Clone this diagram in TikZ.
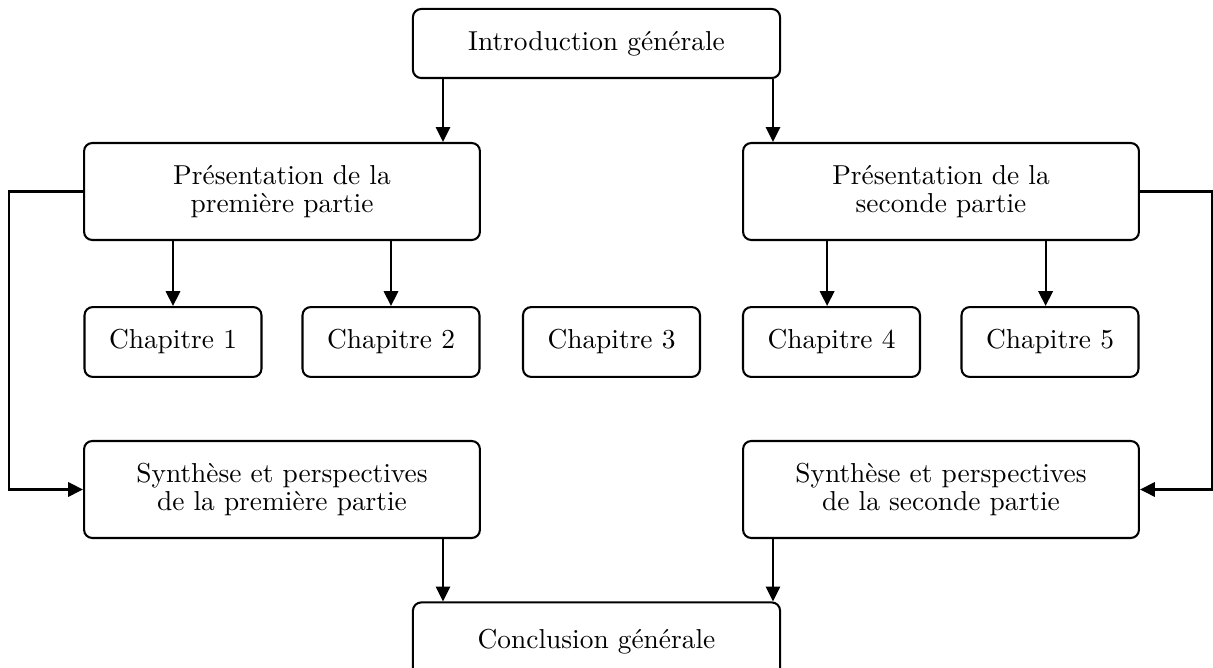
\documentclass[tikz,border=0pt]{standalone}
\usepackage{fontspec}
\usetikzlibrary{arrows.meta}

\begin{document}
\begin{tikzpicture}[x=0.365pt, y=-0.365pt,
  box/.style={draw, line width=0.75pt, rounded corners=3pt, align=center, inner sep=2pt, font=\fontsize{10}{10.2}\selectfont},
  endbox/.style={box, minimum width=134pt, minimum height=25.2pt},
  partbox/.style={box, minimum width=144.5pt, minimum height=35.4pt},
  chapbox/.style={box, minimum width=64.6pt, minimum height=25.5pt},
  arr/.style={line width=0.75pt, -{Triangle[length=5.4pt,width=5.2pt]}}]
  \useasboundingbox (0,0) rectangle (1213,668);
  \coordinate (lcol) at (443,0);
  \coordinate (rcol) at (773,0);
  \node[endbox] (intro) at (596.5,43.5) {Introduction générale};
  \node[partbox] (pres1) at (282,191.5) {Présentation de la\\première partie};
  \node[partbox] (pres2) at (941,191.5) {Présentation de la\\seconde partie};
  \node[chapbox] (ch1) at (173,342) {Chapitre 1};
  \node[chapbox] (ch2) at (391,342) {Chapitre 2};
  \node[chapbox] (ch3) at (611.5,342) {Chapitre 3};
  \node[chapbox] (ch4) at (831.5,342) {Chapitre 4};
  \node[chapbox] (ch5) at (1050,342) {Chapitre 5};
  \node[partbox] (synth1) at (282,489.5) {Synthèse et perspectives\\de la première partie};
  \node[partbox] (synth2) at (941,489.5) {Synthèse et perspectives\\de la seconde partie};
  \node[endbox, minimum height=28.5pt] (concl) at (596.5,641.5) {Conclusion générale};
  \draw[arr] (intro.south -| lcol) -- (pres1.north -| lcol);
  \draw[arr] (intro.south -| rcol) -- (pres2.north -| rcol);
  \draw[arr] (pres1.south -| ch1.north) -- (ch1.north);
  \draw[arr] (pres1.south -| ch2.north) -- (ch2.north);
  \draw[arr] ([xshift=-1.6pt]pres2.south -| ch4.north) -- ([xshift=-1.6pt]ch4.north);
  \draw[arr] ([xshift=-1.6pt]pres2.south -| ch5.north) -- ([xshift=-1.6pt]ch5.north);
  \draw[arr] (pres1.west) -- ++(-74,0) |- (synth1.west);
  \draw[arr] (pres2.east) -- ++(72.5,0) |- (synth2.east);
  \draw[arr] (synth1.south -| lcol) -- (concl.north -| lcol);
  \draw[arr] (synth2.south -| rcol) -- (concl.north -| rcol);
\end{tikzpicture}
\end{document}
